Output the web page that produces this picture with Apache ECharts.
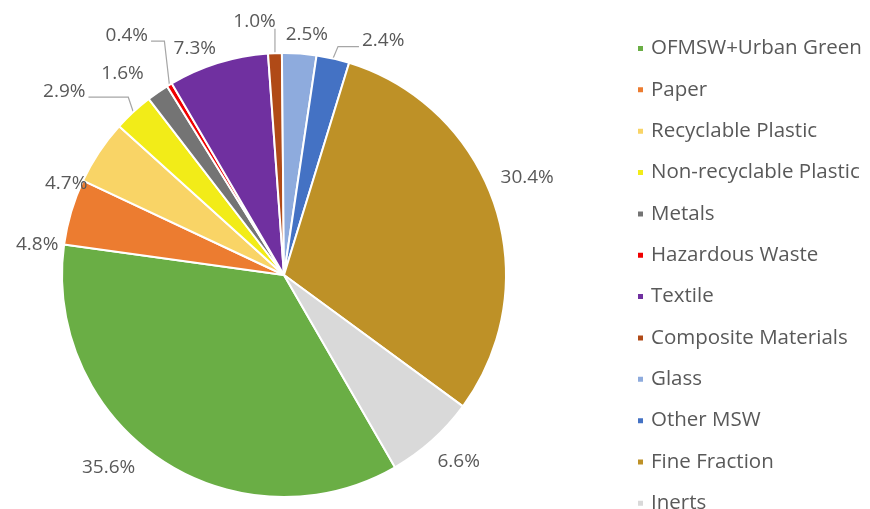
<!DOCTYPE html>
<html>
<head>
<meta charset="utf-8">
<script src="https://cdn.jsdelivr.net/npm/echarts@6/dist/echarts.min.js"></script>
<style>html,body{margin:0;padding:0;background:#fff}#c{width:870px;height:509px}</style>
</head>
<body>
<div id="c"></div>
<script>
const categories = ["OFMSW+Urban Green","Paper","Recyclable Plastic","Non-recyclable Plastic","Metals","Hazardous Waste","Textile","Composite Materials","Glass","Other MSW","Fine Fraction","Inerts"];
const values = [35.6,4.8,4.7,2.9,1.6,0.4,7.3,1.0,2.5,2.4,30.4,6.6];
const colors = ["#6AAE45","#EC7C30","#F9D466","#F2EC18","#747474","#F00000","#7030A0","#B04A17","#8EABDD","#4472C4","#BE9127","#D9D9D9"];
const withLeader = ["Non-recyclable Plastic","Hazardous Waste","Composite Materials","Other MSW"];
// label nudges (style only), in px, matching the hand-placed labels of the original
const labelNudge = [[-11,4],[0,34],[3,30],[-14,-41],[25,-38],[4,-55],[36,-21],[12,-27],[-25,-14],[-27,-29],[-7,-26],[-9,18]];

const chart = echarts.init(document.getElementById('c'));

function layoutLabel(p){
  const i = p.dataIndex;
  const dx = labelNudge[i][0], dy = labelNudge[i][1];
  const res = {dx: dx, dy: dy};
  if (!withLeader.includes(categories[i])) return res;
  let lay = null;
  try { lay = chart.getModel().getSeriesByIndex(0).getData().getItemLayout(i); } catch(e) {}
  if (!lay) return res;
  const mid = (lay.startAngle + lay.endAngle) / 2;
  const ex = lay.cx + lay.r * Math.cos(mid), ey = lay.cy + lay.r * Math.sin(mid);
  const r = p.labelRect;
  const left = r.x + dx, right = r.x + r.width + dx, top = r.y + dy, bottom = r.y + r.height + dy;
  const yy = (top + bottom) / 2 + 6;
  let pts;
  if (ex >= left && ex <= right + 4) {
    pts = [[ex, bottom - 2], [ex, bottom - 2], [ex, ey]];
  } else if (ex > right) {
    pts = [[right + 3, yy], [ex - 5, yy], [ex, ey]];
  } else {
    pts = [[left - 3, yy], [ex + 5, yy], [ex, ey]];
  }
  res.labelLinePoints = pts;
  return res;
}

chart.setOption({
  animation:false,
  color: colors,
  legend: {
    orient:'vertical', left:631, top:31.5, height:700,
    icon:'path://M0,0h10v10h-10z', itemWidth:11, itemHeight:7, itemGap:17.35,
    textStyle:{fontFamily:'Open Sans', fontSize:20.5, color:'#595959', lineHeight:24},
    data: categories
  },
  series:[{
    type:'pie', center:[284,275], radius:222, startAngle:-60, clockwise:true,
    avoidLabelOverlap:true,
    itemStyle:{borderColor:'#fff', borderWidth:2},
    label:{show:true, position:'outside', formatter: p => p.value.toFixed(1)+'%',
      fontFamily:'Open Sans', fontSize:19, color:'#595959', distanceToLabelLine:3},
    labelLine:{show:true, length:5, length2:8, lineStyle:{color:'#a6a6a6', width:1.2}},
    labelLayout: layoutLabel,
    data: categories.map((n,i)=>({name:n, value:values[i],
      labelLine:{show: withLeader.includes(n)}}))
  }]
});
</script>
</body>
</html>
